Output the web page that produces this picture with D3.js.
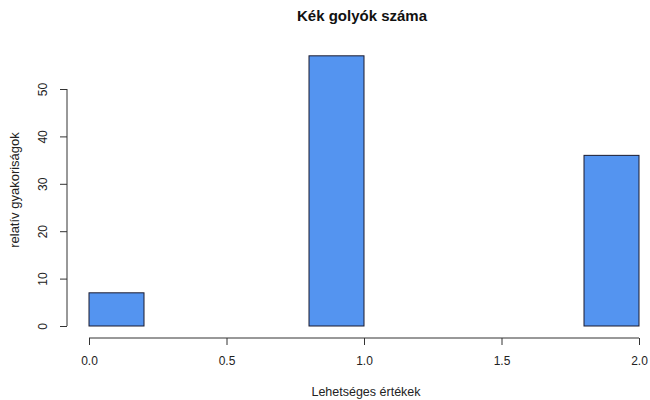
<!DOCTYPE html>
<html>
<head>
<meta charset="utf-8">
<script src="https://cdn.jsdelivr.net/npm/d3@7"></script>
<style>
  body { margin: 0; background: #fff; }
  svg { display: block; font-family: "Liberation Sans", Arial, sans-serif; }
</style>
</head>
<body>
<svg id="chart" width="650" height="400"></svg>
<script>
// Histogram bins (left edge, right edge) and counts
const binStarts = [0.0, 0.2, 0.4, 0.6, 0.8, 1.0, 1.2, 1.4, 1.6, 1.8];
const binEnds   = [0.2, 0.4, 0.6, 0.8, 1.0, 1.2, 1.4, 1.6, 1.8, 2.0];
const counts    = [7, 0, 0, 0, 57, 0, 0, 0, 0, 36];
const xTicks = [0, 0.5, 1.0, 1.5, 2.0];
const yTicks = [0, 10, 20, 30, 40, 50];

const svg = d3.select("#chart");
const x = d3.scaleLinear().domain([0, 2]).range([89, 639]);
const y = d3.scaleLinear().domain([0, 50]).range([326, 89]);

// bars
svg.append("g").selectAll("rect")
  .data(counts)
  .join("rect")
  .attr("x", (d, i) => x(binStarts[i]))
  .attr("width", (d, i) => x(binEnds[i]) - x(binStarts[i]))
  .attr("y", d => y(d))
  .attr("height", d => y(0) - y(d))
  .attr("fill", "#5494f0")
  .attr("stroke", "#1a1a2e")
  .attr("stroke-width", 1);

// x axis
const xAxis = svg.append("g")
  .attr("transform", "translate(0,338)")
  .call(d3.axisBottom(x).tickValues(xTicks).tickFormat(d3.format(".1f")).tickSize(7).tickSizeOuter(0));
xAxis.select(".domain").attr("stroke", "#333").attr("d", `M${x(0)},0H${x(2)}`);
xAxis.selectAll(".tick line").attr("stroke", "#333");
xAxis.selectAll(".tick text").attr("font-size", 12).attr("fill", "#222").attr("dy", "1.4em")
  .attr("font-family", "Liberation Sans, Arial, sans-serif");

// y axis
const yAxis = svg.append("g")
  .attr("transform", "translate(67,0)")
  .call(d3.axisLeft(y).tickValues(yTicks).tickSize(7).tickSizeOuter(0));
yAxis.select(".domain").attr("stroke", "#333").attr("d", `M0,${y(0)}V${y(50)}`);
yAxis.selectAll(".tick line").attr("stroke", "#333");
yAxis.selectAll(".tick text")
  .attr("font-size", 12).attr("fill", "#222")
  .attr("font-family", "Liberation Sans, Arial, sans-serif")
  .attr("x", null).attr("dy", null)
  .attr("text-anchor", "middle")
  .attr("transform", "translate(-20,0) rotate(-90)")
  .attr("y", 0);

// titles
svg.append("text")
  .attr("x", 362).attr("y", 21)
  .attr("text-anchor", "middle")
  .attr("font-size", 15).attr("font-weight", "bold").attr("fill", "#111")
  .text("Kék golyók száma");

svg.append("text")
  .attr("x", 366).attr("y", 396)
  .attr("text-anchor", "middle")
  .attr("font-size", 12.5).attr("fill", "#222")
  .text("Lehetséges értékek");

svg.append("text")
  .attr("transform", "translate(19,190) rotate(-90)")
  .attr("text-anchor", "middle")
  .attr("font-size", 13).attr("fill", "#222")
  .text("relatív gyakoriságok");
</script>
</body>
</html>
